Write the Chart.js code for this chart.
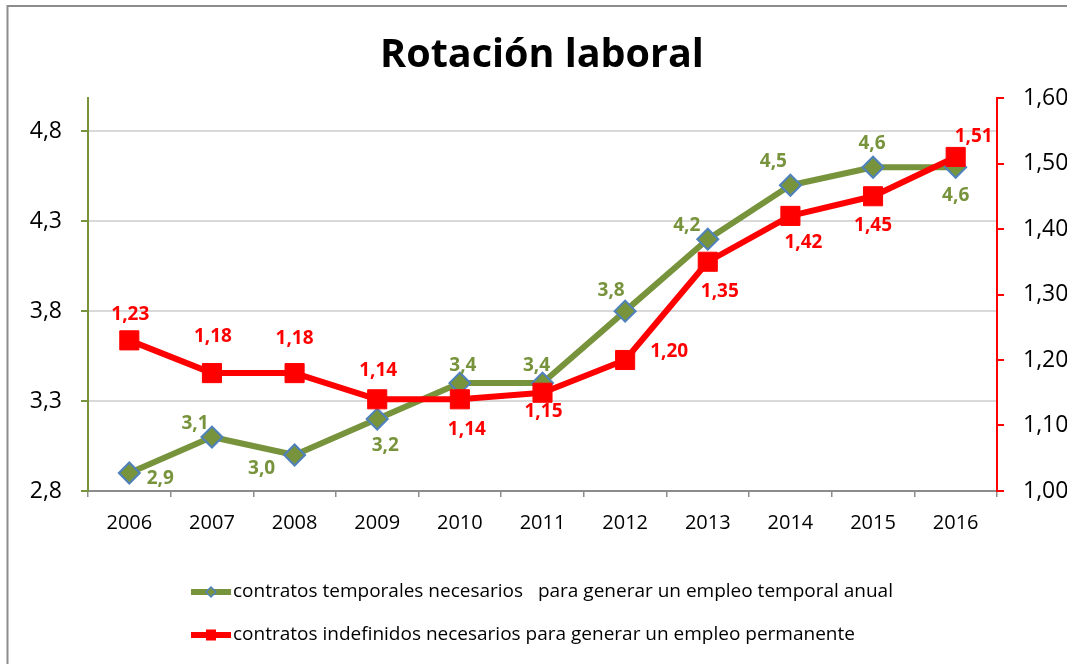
<!DOCTYPE html>
<html>
<head>
<meta charset="utf-8">
<script src="https://cdn.jsdelivr.net/npm/chart.js@4/dist/chart.umd.min.js"></script>
<style>
  html, body { margin: 0; padding: 0; background: #ffffff; }
  canvas { display: block; }
</style>
</head>
<body>
<canvas id="c" width="1067" height="664"></canvas>
<script>
// ---- data ----
const chartTitle = "Rotación laboral";
const years = ["2006", "2007", "2008", "2009", "2010", "2011", "2012", "2013", "2014", "2015", "2016"];
const temporalesLabel = "contratos temporales necesarios   para generar un empleo temporal anual";
const temporales = [2.9, 3.1, 3.0, 3.2, 3.4, 3.4, 3.8, 4.2, 4.5, 4.6, 4.6];
const indefinidosLabel = "contratos indefinidos necesarios para generar un empleo permanente";
const indefinidos = [1.23, 1.18, 1.18, 1.14, 1.14, 1.15, 1.20, 1.35, 1.42, 1.45, 1.51];
const leftTicks = [2.8, 3.3, 3.8, 4.3, 4.8];
const rightTicks = [1.0, 1.1, 1.2, 1.3, 1.4, 1.5, 1.6];

// ---- styles ----
const GREEN = '#77933C';
const RED = '#FF0000';
const FONT = '"Open Sans", "Liberation Sans", sans-serif';
const fmt = (v, d) => v.toFixed(d).replace('.', ',');

// label placement (dx, dy from point centre) per dataset
const labelOffsets = [
  [[31, 6], [-17, -13], [-33, 14], [8, 27], [3, -17], [-6, -17], [-14, -21], [-21, -14], [-17, -24], [-1, -24], [0, 28]],
  [[1, -26], [1, -37], [0, -35], [1, -29], [7, 30], [1, 19], [44, -8], [12, 30], [13, 27], [0, 29], [18, -20]]
];

const decorPlugin = {
  id: 'decor',
  beforeDraw(chart) {
    const ctx = chart.ctx;
    ctx.save();
    ctx.fillStyle = '#ffffff';
    ctx.fillRect(0, 0, chart.width, chart.height);
    ctx.strokeStyle = '#8c8c8c';
    ctx.lineWidth = 2;
    ctx.strokeRect(7.5, 6, 1200, 800);
    // title
    ctx.fillStyle = '#000000';
    ctx.font = 'bold 39.5px ' + FONT;
    ctx.textAlign = 'center';
    ctx.textBaseline = 'alphabetic';
    ctx.fillText(chartTitle, 542, 67);
    ctx.restore();
  },
  afterDatasetsDraw(chart) {
    const ctx = chart.ctx;
    ctx.save();
    ctx.font = 'bold 19px ' + FONT;
    ctx.textAlign = 'center';
    ctx.textBaseline = 'middle';
    chart.data.datasets.forEach((ds, di) => {
      const meta = chart.getDatasetMeta(di);
      ctx.fillStyle = ds.labelColor;
      meta.data.forEach((pt, i) => {
        const off = labelOffsets[di][i];
        ctx.fillText(fmt(ds.data[i], ds.decimals), pt.x + off[0], pt.y + off[1]);
      });
    });
    ctx.restore();
  },
  afterDraw(chart) {
    // legend
    const ctx = chart.ctx;
    ctx.save();
    const rows = [592, 635];
    chart.data.datasets.forEach((ds, di) => {
      const y = rows[di];
      ctx.strokeStyle = ds.borderColor;
      ctx.lineWidth = 6;
      ctx.lineCap = 'butt';
      ctx.beginPath();
      ctx.moveTo(191, y);
      ctx.lineTo(231, y);
      ctx.stroke();
      ctx.fillStyle = ds.pointBackgroundColor;
      ctx.strokeStyle = ds.pointBorderColor;
      ctx.lineWidth = 1.5;
      if (ds.pointStyle === 'rectRot') {
        ctx.beginPath();
        ctx.moveTo(211, y - 5);
        ctx.lineTo(216, y);
        ctx.lineTo(211, y + 5);
        ctx.lineTo(206, y);
        ctx.closePath();
        ctx.fill();
        ctx.stroke();
      } else {
        ctx.fillRect(206, y - 5.5, 10, 11);
      }
      ctx.fillStyle = '#000000';
      ctx.font = '19px ' + FONT;
      ctx.textAlign = 'left';
      ctx.textBaseline = 'middle';
      ctx.fillText(ds.label, 233, y);
    });
    ctx.restore();
  }
};

new Chart(document.getElementById('c'), {
  type: 'line',
  data: {
    labels: years,
    datasets: [
      {
        label: temporalesLabel,
        data: temporales,
        yAxisID: 'y',
        borderColor: GREEN,
        borderWidth: 6,
        borderJoinStyle: 'round',
        pointStyle: 'rectRot',
        pointRadius: 10.5,
        pointHoverRadius: 10.5,
        pointBackgroundColor: GREEN,
        pointBorderColor: '#4F81BD',
        pointBorderWidth: 2,
        labelColor: GREEN,
        decimals: 1,
        order: 2,
        tension: 0
      },
      {
        label: indefinidosLabel,
        data: indefinidos,
        yAxisID: 'y1',
        borderColor: RED,
        borderWidth: 6,
        borderJoinStyle: 'round',
        pointStyle: 'rect',
        pointRadius: 13.5,
        pointHoverRadius: 13.5,
        pointBackgroundColor: RED,
        pointBorderColor: RED,
        pointBorderWidth: 1,
        labelColor: RED,
        decimals: 2,
        order: 1,
        tension: 0
      }
    ]
  },
  options: {
    responsive: false,
    animation: false,
    events: [],
    layout: { padding: { top: 98, left: 0, right: 0, bottom: 0 } },
    plugins: {
      legend: { display: false },
      title: { display: false },
      tooltip: { enabled: false }
    },
    scales: {
      x: {
        type: 'category',
        offset: true,
        grid: { offset: true, drawOnChartArea: false, drawTicks: true, tickLength: 6, color: '#8c8c8c', lineWidth: 1.5 },
        border: { color: '#8c8c8c', width: 2 },
        ticks: { font: { family: FONT, size: 20 }, color: '#000000', padding: 14, maxRotation: 0 },
        afterFit(s) { s.height = 173; }
      },
      y: {
        position: 'left',
        min: 2.8,
        max: 4.985,
        afterBuildTicks(s) { s.ticks = leftTicks.map(v => ({ value: v })); },
        grid: { color: '#d9d9d9', lineWidth: 2, tickColor: GREEN, tickLength: 7 },
        border: { color: GREEN, width: 2 },
        ticks: { font: { family: FONT, size: 23 }, color: '#000000', padding: 19, callback: v => fmt(v, 1) },
        afterFit(s) { s.width = 88; }
      },
      y1: {
        position: 'right',
        min: 1.0,
        max: 1.6,
        afterBuildTicks(s) { s.ticks = rightTicks.map(v => ({ value: v })); },
        grid: { drawOnChartArea: false, color: RED, tickColor: RED, tickLength: 7, lineWidth: 2 },
        border: { color: RED, width: 2 },
        ticks: { font: { family: FONT, size: 23 }, color: '#000000', padding: 19, callback: v => fmt(v, 2) },
        afterFit(s) { s.width = 70; }
      }
    }
  },
  plugins: [decorPlugin]
});
</script>
</body>
</html>
